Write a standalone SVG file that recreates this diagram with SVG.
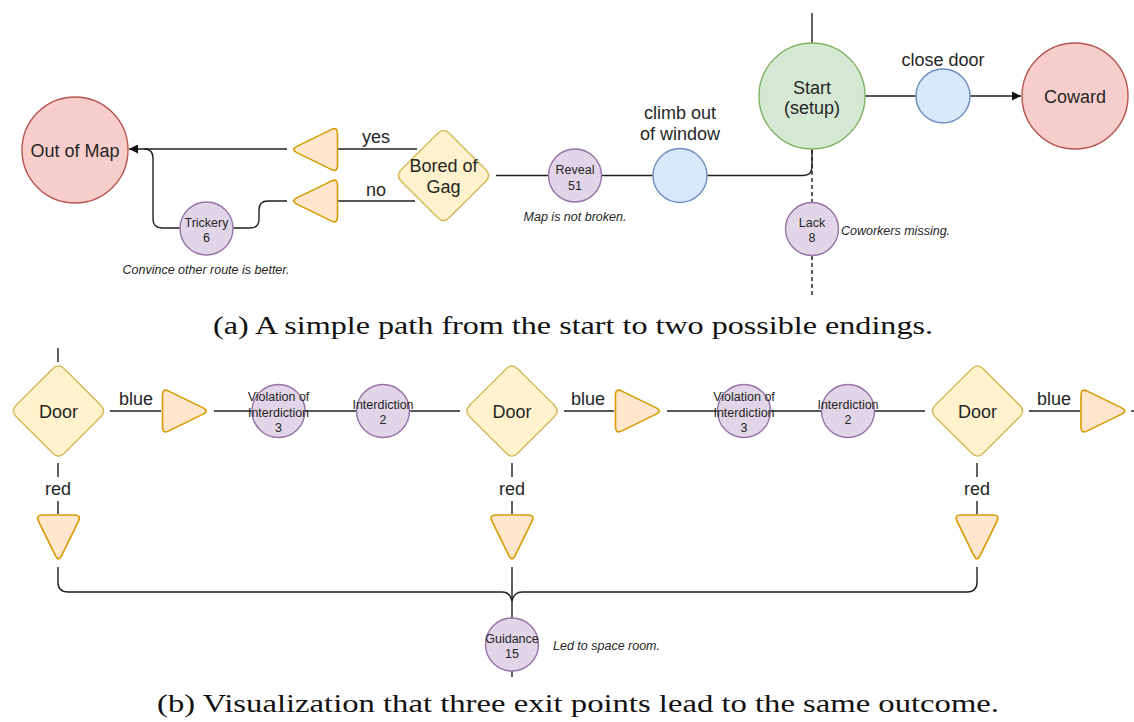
<svg xmlns="http://www.w3.org/2000/svg" xmlns:xlink="http://www.w3.org/1999/xlink" width="1134" height="722" viewBox="0 0 1134 722">
  <style>
    .edge { fill: none; stroke: #1f1f1f; stroke-width: 1.4; }
    .dash { stroke-dasharray: 4 3; }
    .red { fill: #f8cecc; stroke: #b85450; stroke-width: 1.4; }
    .green { fill: #d5e8d4; stroke: #82b366; stroke-width: 1.4; }
    .blue { fill: #dae8fc; stroke: #6c8ebf; stroke-width: 1.4; }
    .purple { fill: #e1d5e7; stroke: #9673a6; stroke-width: 1.4; }
    .gate { fill: #fff2cc; stroke: #d6b656; stroke-width: 1.4; }
    .tri { fill: #ffe6cc; stroke: #d79b00; stroke-width: 1.6; }
    text { font-family: "Liberation Sans", Arial, sans-serif; fill: #262626; text-anchor: middle; }
    .lg { font-size: 18px; }
    .sm { font-size: 12.5px; }
    .note { font-size: 12.5px; font-style: italic; }
    .cap { font-family: "Liberation Serif", "Times New Roman", serif; font-size: 26px; fill: #111; }
  </style>
  <defs>
    <!-- rounded triangle pointing right, centred on the origin -->
    <path id="triangle" d="M -16.7,-19.9 L 17.7,-3.1 Q 24,0 17.7,3.1 L -16.7,19.9 Q -23,23 -23,16 L -23,-16 Q -23,-23 -16.7,-19.9 Z"/>
    <!-- rounded decision diamond, centred on the origin -->
    <path id="diamond" d="M -5.66,-42.34 Q 0,-48 5.66,-42.34 L 42.34,-5.66 Q 48,0 42.34,5.66 L 5.66,42.34 Q 0,48 -5.66,42.34 L -42.34,5.66 Q -48,0 -42.34,-5.66 Z"/>
    <marker id="arrow" viewBox="0 0 10 10" refX="10" refY="5" markerWidth="11" markerHeight="9" markerUnits="userSpaceOnUse" orient="auto">
      <path d="M 0,0 L 10,5 L 0,10 Z" fill="#111"/>
    </marker>
  </defs>

  <rect width="1134" height="722" fill="#ffffff"/>

  <!-- connectors -->
  <g id="connectors">
    <!-- upper story -->
    <path class="edge" d="M 812,13 L 812,43"/>
    <path class="edge" d="M 865,96 L 916,96"/>
    <path class="edge" d="M 970,96 L 1021,96" marker-end="url(#arrow)"/>
    <path class="edge" d="M 707,175.5 L 803,175.5 Q 812,175.5 812,166.5 L 812,149"/>
    <path class="edge" d="M 601,175.5 L 653,175.5"/>
    <path class="edge" d="M 496,175.5 L 549,175.5"/>
    <path class="edge dash" d="M 812,150 L 812,202"/>
    <path class="edge dash" d="M 812,256 L 812,297"/>
    <path class="edge" d="M 417,149 L 338,149"/>
    <path class="edge" d="M 415,201 L 338,201"/>
    <path class="edge" d="M 287,149 L 129,149" marker-end="url(#arrow)"/>
    <path class="edge" d="M 287,201 L 268,201 Q 259,201 259,210 L 259,219 Q 259,228 250,228 L 233,228"/>
    <path class="edge" d="M 180,228 L 162,228 Q 153,228 153,219 L 153,158 Q 153,149 144,149"/>

    <!-- lower story: main corridor -->
    <path class="edge" d="M 58,348 L 58,362"/>
    <path class="edge" d="M 110,411 L 161,411"/>
    <path class="edge" d="M 214,411 L 460,411"/>
    <path class="edge" d="M 564,411 L 614,411"/>
    <path class="edge" d="M 667,411 L 925,411"/>
    <path class="edge" d="M 1029,411 L 1080,411"/>
    <path class="edge" d="M 1131,411 L 1134,411"/>

    <!-- red exits -->
    <path class="edge" d="M 58,463 L 58,477 M 58,501 L 58,514"/>
    <path class="edge" d="M 512,463 L 512,477 M 512,501 L 512,514"/>
    <path class="edge" d="M 977,463 L 977,477 M 977,501 L 977,514"/>

    <!-- brace joining the three exits -->
    <path class="edge" d="M 58,567 L 58,582 Q 58,592 68,592 L 502,592 Q 510,592 512,601"/>
    <path class="edge" d="M 977,567 L 977,582 Q 977,592 967,592 L 522,592 Q 514,592 512,601"/>
    <path class="edge" d="M 512,567 L 512,618"/>
    <path class="edge" d="M 512,671 L 512,677"/>
  </g>

  <!-- upper story nodes -->
  <g id="start">
    <circle class="green" cx="812" cy="96" r="53"/>
    <text class="lg" x="812" y="94">Start</text>
    <text class="lg" x="812" y="114">(setup)</text>
  </g>
  <g id="close-door">
    <circle class="blue" cx="943" cy="96" r="27"/>
    <text class="lg" x="943" y="66">close door</text>
  </g>
  <g id="coward">
    <circle class="red" cx="1075" cy="96" r="53"/>
    <text class="lg" x="1075" y="103">Coward</text>
  </g>
  <g id="climb-out">
    <circle class="blue" cx="680" cy="175.5" r="27"/>
    <text class="lg" x="680" y="119">climb out</text>
    <text class="lg" x="680" y="140">of window</text>
  </g>
  <g id="lack">
    <circle class="purple" cx="812" cy="229" r="26.5"/>
    <text class="sm" x="812" y="226.5">Lack</text>
    <text class="sm" x="812" y="241.5">8</text>
    <text class="note" x="841" y="235" style="text-anchor:start">Coworkers missing.</text>
  </g>
  <g id="reveal">
    <circle class="purple" cx="575" cy="175.5" r="26.5"/>
    <text class="sm" x="575" y="173.5">Reveal</text>
    <text class="sm" x="575" y="189.5">51</text>
    <text class="note" x="575" y="221">Map is not broken.</text>
  </g>
  <g id="bored-of-gag">
    <use xlink:href="#diamond" class="gate" transform="translate(443.5,175.5)"/>
    <text class="lg" x="443.5" y="172">Bored of</text>
    <text class="lg" x="443.5" y="193">Gag</text>
  </g>
  <g id="yes-exit">
    <use xlink:href="#triangle" class="tri" transform="translate(314.5,149.5) rotate(180)"/>
    <text class="lg" x="376" y="143">yes</text>
  </g>
  <g id="no-exit">
    <use xlink:href="#triangle" class="tri" transform="translate(314.5,201) rotate(180)"/>
    <text class="lg" x="376" y="196">no</text>
  </g>
  <g id="trickery">
    <circle class="purple" cx="206.5" cy="228.5" r="26.5"/>
    <text class="sm" x="206.5" y="226.5">Trickery</text>
    <text class="sm" x="206.5" y="241.5">6</text>
    <text class="note" x="206" y="274">Convince other route is better.</text>
  </g>
  <g id="out-of-map">
    <circle class="red" cx="75" cy="150" r="53"/>
    <text class="lg" x="75" y="156.5">Out of Map</text>
  </g>

  <text class="cap" x="213" y="334" textLength="720" lengthAdjust="spacingAndGlyphs" style="text-anchor:start">(a) A simple path from the start to two possible endings.</text>

  <!-- lower story nodes -->
  <g id="door-1">
    <use xlink:href="#diamond" class="gate" transform="translate(58.5,411)"/>
    <text class="lg" x="58.5" y="417.5">Door</text>
    <text class="lg" x="136" y="405">blue</text>
    <text class="lg" x="58" y="495">red</text>
  </g>
  <g id="blue-exit-1">
    <use xlink:href="#triangle" class="tri" transform="translate(185.5,411)"/>
  </g>
  <g id="violation-1">
    <circle class="purple" cx="278.5" cy="411" r="26.5"/>
    <text class="sm" x="278.5" y="400.5">Violation of</text>
    <text class="sm" x="278.5" y="416.5">Interdiction</text>
    <text class="sm" x="278.5" y="431.5">3</text>
  </g>
  <g id="interdiction-1">
    <circle class="purple" cx="383" cy="411" r="26.5"/>
    <text class="sm" x="383" y="408.5">Interdiction</text>
    <text class="sm" x="383" y="423.5">2</text>
  </g>
  <g id="door-2">
    <use xlink:href="#diamond" class="gate" transform="translate(512,411)"/>
    <text class="lg" x="512" y="417.5">Door</text>
    <text class="lg" x="588" y="405">blue</text>
    <text class="lg" x="512" y="495">red</text>
  </g>
  <g id="blue-exit-2">
    <use xlink:href="#triangle" class="tri" transform="translate(638.5,411)"/>
  </g>
  <g id="violation-2">
    <circle class="purple" cx="744" cy="411" r="26.5"/>
    <text class="sm" x="744" y="400.5">Violation of</text>
    <text class="sm" x="744" y="416.5">Interdiction</text>
    <text class="sm" x="744" y="431.5">3</text>
  </g>
  <g id="interdiction-2">
    <circle class="purple" cx="848" cy="411" r="26.5"/>
    <text class="sm" x="848" y="408.5">Interdiction</text>
    <text class="sm" x="848" y="423.5">2</text>
  </g>
  <g id="door-3">
    <use xlink:href="#diamond" class="gate" transform="translate(977.5,411)"/>
    <text class="lg" x="977.5" y="417.5">Door</text>
    <text class="lg" x="1054" y="405">blue</text>
    <text class="lg" x="977" y="495">red</text>
  </g>
  <g id="blue-exit-3">
    <use xlink:href="#triangle" class="tri" transform="translate(1104,411)"/>
  </g>
  <g id="red-exit-1">
    <use xlink:href="#triangle" class="tri" transform="translate(58.5,538) rotate(90)"/>
  </g>
  <g id="red-exit-2">
    <use xlink:href="#triangle" class="tri" transform="translate(512,538) rotate(90)"/>
  </g>
  <g id="red-exit-3">
    <use xlink:href="#triangle" class="tri" transform="translate(977,538) rotate(90)"/>
  </g>
  <g id="guidance">
    <circle class="purple" cx="512" cy="644.5" r="26.5"/>
    <text class="sm" x="512" y="642.5">Guidance</text>
    <text class="sm" x="512" y="657.5">15</text>
    <text class="note" x="553" y="650" style="text-anchor:start">Led to space room.</text>
  </g>

  <text class="cap" x="157" y="712" textLength="842" lengthAdjust="spacingAndGlyphs" style="text-anchor:start">(b) Visualization that three exit points lead to the same outcome.</text>
</svg>
